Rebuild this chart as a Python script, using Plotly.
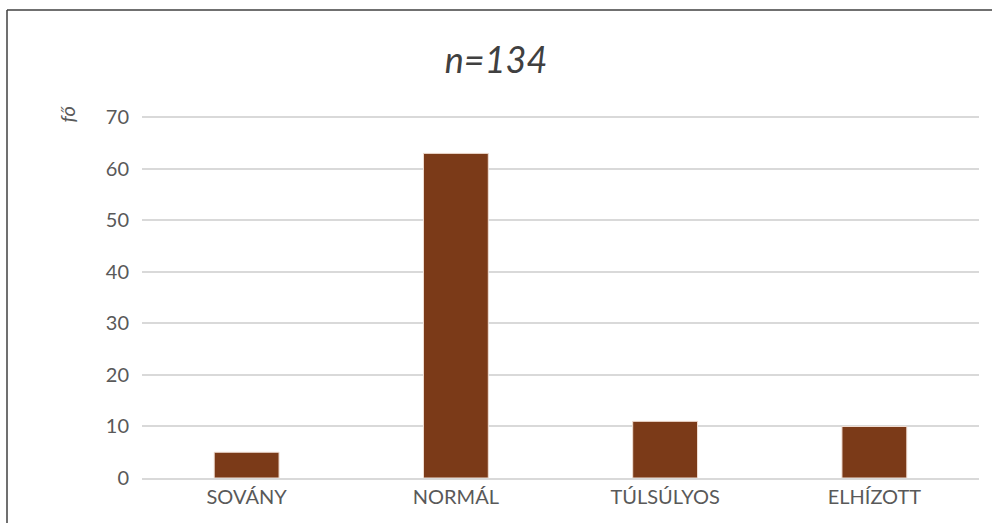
import plotly.graph_objects as go

categories = ["SOVÁNY", "NORMÁL", "TÚLSÚLYOS", "ELHÍZOTT"]
counts = [5, 63, 11, 10]
y_ticks = [0, 10, 20, 30, 40, 50, 60, 70]

W, H = 992, 523
ML, MR, MT, MB = 142, 13, 116, 45
pw, ph = W - ML - MR, H - MT - MB

fig = go.Figure(
    go.Bar(
        x=categories,
        y=counts,
        marker=dict(color="#7B3A18", line=dict(color="#F2E0D6", width=1)),
        width=0.31,
    )
)

grey = "#595959"
fig.update_layout(
    width=W,
    height=H,
    margin=dict(l=ML, r=MR, t=MT, b=MB),
    plot_bgcolor="white",
    paper_bgcolor="white",
    showlegend=False,
    font=dict(family="Lato, Liberation Sans, sans-serif", color=grey),
    title=dict(
        text="<i>n=134</i>",
        x=0.5,
        xanchor="center",
        y=1 - 60 / H,
        yanchor="middle",
        yref="container",
        font=dict(size=36, color="#404040"),
    ),
)
fig.update_yaxes(
    range=[0, 70.25],
    tickvals=y_ticks,
    showgrid=True,
    gridcolor="#D9D9D9",
    gridwidth=1.5,
    zeroline=False,
    showline=False,
    ticks="",
    ticklabelstandoff=12,
    tickfont=dict(size=20, color=grey),
)
fig.update_xaxes(
    showline=True,
    linecolor="#D9D9D9",
    linewidth=1.5,
    ticks="",
    tickfont=dict(size=20, color=grey),
)

fig.add_annotation(
    text="<i>fő</i>",
    xref="paper",
    yref="paper",
    x=(52 - ML) / pw,
    y=(H - MB - 104) / ph,
    textangle=-90,
    showarrow=False,
    font=dict(size=20, color=grey),
)

# frame of the original chart (top and left edges)
top = (H - MB - 10) / ph
left = (7 - ML) / pw
fig.add_shape(type="line", xref="paper", yref="paper", x0=left, x1=(W - ML) / pw, y0=top, y1=top,
              line=dict(color="#404040", width=1.5))
fig.add_shape(type="line", xref="paper", yref="paper", x0=left, x1=left, y0=top, y1=-MB / ph,
              line=dict(color="#404040", width=1.5))

fig.write_html(
    "out.html",
    config={"displayModeBar": False},
    post_script="document.body.style.margin='0px';",
)
